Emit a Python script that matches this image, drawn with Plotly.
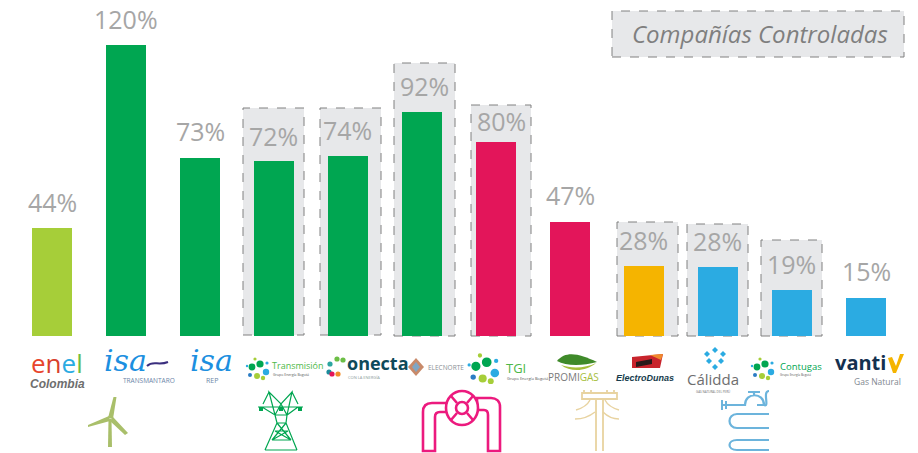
import re
import plotly.graph_objects as go

companies = ["Enel Colombia", "ISA Transmantaro", "ISA REP", "Transmisión GEB", "Conecta", "Elecnorte",
             "TGI", "Promigas", "ElectroDunas", "Cálidda", "Contugas", "Vanti"]
values = [44.5, 120, 73.4, 72.2, 74.2, 92.4, 80, 47, 28.9, 28.5, 19, 15.7]
labels = ["44%", "120%", "73%", "72%", "74%", "92%", "80%", "47%", "28%", "28%", "19%", "15%"]
colors = ["#A6CE39", "#00A651", "#00A651", "#00A651", "#00A651", "#00A651",
          "#E3155A", "#E3155A", "#F5B400", "#2BABE2", "#2BABE2", "#2BABE2"]
label_dx = [0, 0, 0, -1, -1, 2, 5, 0, -1, -1, -1, 0]
label_dy = [26, 26, 27, 25, 26, 26, 21, 27, 26, 26, 26, 27]

W, H = 918, 453
FONT = "Open Sans"
GREY = "#A6A6A6"

def X(x): return x / W
def Y(y): return 1 - y / H

def path(s):
    toks = re.findall(r"[A-Za-z]|-?[\d.]+", s)
    out, isx = [], True
    for t in toks:
        if t.isalpha():
            out.append(t); isx = True
        else:
            out.append(f"{X(float(t)):.5f}" if isx else f"{Y(float(t)):.5f}")
            isx = not isx
    return " ".join(out)

shapes, notes = [], []

def box(x0, y0, x1, y1):
    shapes.append(dict(type="rect", xref="paper", yref="paper", x0=X(x0), x1=X(x1), y0=Y(y1), y1=Y(y0),
                       fillcolor="#E7E8EA", line=dict(color="#808080", width=1, dash="dash"), layer="below"))

def stroke(s, color, width=2, fill=None):
    shapes.append(dict(type="path", xref="paper", yref="paper", path=path(s),
                       line=dict(color=color, width=width), fillcolor=fill or "rgba(0,0,0,0)"))

def solid(s, color):
    shapes.append(dict(type="path", xref="paper", yref="paper", path=path(s),
                       line=dict(width=0), fillcolor=color))

def dot(cx, cy, r, color):
    shapes.append(dict(type="circle", xref="paper", yref="paper", x0=X(cx - r), x1=X(cx + r),
                       y0=Y(cy + r), y1=Y(cy - r), fillcolor=color, line=dict(width=0)))

def text(x, y, s, size, color, anchor="center", family=FONT):
    notes.append(dict(xref="paper", yref="paper", x=X(x), y=Y(y), text=s, showarrow=False, xanchor=anchor,
                      yanchor="middle", font=dict(size=size, color=color, family=family)))

def cluster(cx, cy, k=1.0):
    for dx, dy, r, c in [(-6, -2, 3.4, "#00A651"), (2, -5, 3.6, "#00A651"), (8, 3, 3.2, "#2BABE2"),
                         (-1, 7, 3, "#A6CE39"), (-8, 6, 2, "#2B7CC4"), (5, 9, 2.2, "#A6CE39"),
                         (-3, -10, 1.6, "#A6CE39"), (9, -6, 1.6, "#2BABE2"), (-11, -3, 1.2, "#2BABE2")]:
        dot(cx + dx * k, cy + dy * k, r * k, c)

# dashed "controlled company" boxes
for b in [(243, 108, 304, 335), (320, 108, 381, 335), (394, 63, 455, 336), (471, 105, 531, 336),
          (617, 222, 678, 336), (687, 224, 748, 336), (761, 240, 822, 336), (612, 11, 904, 57)]:
    box(*b)
text(760, 34, "<i>Compañías Controladas</i>", 24, "#7F7F7F")

# logos
text(57, 363, "<span style='color:#E8452C'>e</span><span style='color:#D8402E'>n</span>"
              "<span style='color:#2BABE2'>e</span><span style='color:#6CBE45'>l</span>", 26, "#E8452C")
text(57, 384, "<b><i>Colombia</i></b>", 12, "#6E6E6E", family="Liberation Sans")
text(125, 360, "<i>isa</i>", 30, "#1C8FE0", family="DejaVu Serif")
stroke("M147 366 C153 360 158 366 168 362", "#3A2E7E", 2)
text(149, 380, "TRANSMANTARO", 6.5, "#6D86A8")
text(211, 360, "<i>isa</i>", 30, "#1C8FE0", family="DejaVu Serif")
text(212, 380, "REP", 7, "#6D86A8")
cluster(258, 369)
text(270, 365, "Transmisión", 9, "#4DB848", "left")
text(271, 374, "Grupo Energía Bogotá", 3.5, "#555555", "left")
for cx, cy, c in [(337, 359, "#6CBE45"), (330, 364, "#2BA6A0"), (329, 372, "#1C8C9C"),
                  (332, 374, "#E3155A"), (338, 374, "#F28C28"), (343, 360, "#6CBE45")]:
    dot(cx, cy, 2.6, c)
text(345, 363, "<b>onecta</b>", 18, "#0E4A5A", "left")
text(346, 377, "CON LA ENERGÍA", 4, "#8A9A9A", "left")
solid("M416 358 L424 367 L416 376 L408 367 Z", "#C88A6A")
solid("M416 362 L420 367 L416 372 L412 367 Z", "#7FA6C4")
text(426, 367, "ELECNORTE", 6.5, "#8A8F96", "left")
cluster(484, 369, 1.35)
text(504, 368, "TGI", 13, "#4DB848", "left")
text(505, 378, "Grupo Energía Bogotá", 4, "#555555", "left")
solid("M557 361 C566 350 580 354 597 362 C582 366 566 366 557 361 Z", "#3F8A2A")
solid("M561 365 C572 369 586 368 596 363 C586 372 570 372 561 365 Z", "#A6BE3C")
text(573, 377, "<span style='color:#7A7A7A'>PROMI</span><span style='color:#A6BE3C'>GAS</span>", 10, "#7A7A7A")
solid("M632 357 L663 354 L660 368 L632 368 Z", "#C8242C")
solid("M650 355 L663 354 L661 360 Z", "#F08A2C")
solid("M636 362 L652 359 L652 364 L636 367 Z", "#2A1A1A")
text(645, 378, "<b><i>ElectroDunas</i></b>", 9, "#163C4C", family="Liberation Sans")
for dx, dy in [(0, -8), (-8, -4), (8, -4), (-6, 3), (6, 3), (0, 9)]:
    solid(f"M{715 + dx - 3} {358 + dy} L{715 + dx} {358 + dy - 3} L{715 + dx + 3} {358 + dy} L{715 + dx} {358 + dy + 3} Z", "#2BABE2")
text(713, 379, "Cálidda", 15, "#6E6E6E")
text(713, 391, "GAS NATURAL DEL PERÚ", 3, "#6E6E6E")
cluster(763, 369)
text(778, 366, "Contugas", 9.5, "#00A651", "left")
text(778, 375, "Grupo Energía Bogotá", 3, "#555555", "left")
text(833, 362, "<b>vanti</b>", 20, "#14304F", "left")
solid("M888 358 L892 357 L896 366 L900 354 L904 354 L896 373 L893 373 Z", "#F5B400")
text(903, 381, "Gas Natural", 8.5, "#7F8890", "right")

# sector icons
turbine = "#A9BF6A"
solid("M108 447 L112 447 L111.5 419 L108.5 419 Z", turbine)
solid("M108 418 L113.5 397 L116.5 397 L113 419 Z", turbine)
solid("M109 416 L88 425 L88 427 L110 421 Z", turbine)
solid("M110 421 L125 435 L128 433 L113 417 Z", turbine)

tw = "#00A651"
stroke("M265 450 L277 423 L275 415 L269 392 L281 404 L292 392 L287 415 L286 423 L297 450 "
       "M265 450 L297 450 M258 407 L303 407 M263 404 L269 392 M298 404 L292 392 "
       "M275 415 L287 415 M277 423 L286 423 M275 431 L288 431 M272 440 L291 440 "
       "M277 423 L291 440 M286 423 L272 440 M272 440 L288 431 M275 431 L291 440 "
       "M262 407 L275 415 L281 404 L287 415 L298 407", tw, 1.2)
for cx in (261, 281, 300):
    solid(f"M{cx - 2} 407 L{cx + 2} 407 L{cx + 2} 411 L{cx - 2} 411 Z", tw)

pk = "#EC1A7E"
stroke("M423 451 L423 412 C423 405 427 403 432 403 L447 403 L447 412 L440 412 C436 412 435 414 435 417 L435 451 Z",
       pk, 2.6)
stroke("M500 451 L500 407 C500 401 496 398 491 398 L477 398 L477 410 L484 410 C487 410 488 412 488 415 L488 451 Z",
       pk, 2.6)
shapes.append(dict(type="circle", xref="paper", yref="paper", x0=X(446), x1=X(478), y0=Y(425), y1=Y(391),
                   fillcolor="#FFFFFF", line=dict(color=pk, width=2.6)))
stroke("M451 396 L457 403 M473 396 L467 403 M451 420 L457 413 M473 420 L467 413", pk, 2.6)
shapes.append(dict(type="circle", xref="paper", yref="paper", x0=X(456), x1=X(468), y0=Y(414), y1=Y(402),
                   fillcolor="#FFFFFF", line=dict(color=pk, width=2.6)))

pole = "#E8D3A0"
stroke("M596 399 L596 451 M603 399 L603 451", pole, 1.8)
stroke("M582 393 L617 393 L617 399 L582 399 Z M584 390 L584 393 M591 390 L591 393 M607 390 L607 393 M614 390 L614 393",
       pole, 1.8)
stroke("M576 410 C583 408 588 404 590 400 M619 410 C612 408 607 404 605 400 "
       "M575 419 C583 419 590 416 595 412 M619 419 C612 419 607 416 603 412", pole, 1.4)

coil = "#6CB4DC"
stroke("M722 405 L745 405 C745 392 764 392 764 405 L757 405 M748 392 L760 392 M754 392 L754 396 "
       "M764 405 C770 408 762 391 769 391", coil, 2.2)
stroke("M769 414 L737 414 C727 414 727 428 737 428 L769 428 M769 440 L737 440 C727 440 727 450 737 450 L769 450",
       coil, 2.2)
stroke("M722 400 L722 410 M726 401 L726 409", coil, 2)

# value labels are anchored to the bars through the data axes
for name, v, lab, dx, dy in zip(companies, values, labels, label_dx, label_dy):
    notes.append(dict(x=name, y=v, xref="x", yref="y", text=lab, showarrow=False, xshift=dx, yshift=dy,
                      xanchor="center", yanchor="middle", font=dict(size=25, color=GREY, family=FONT)))

fig = go.Figure(go.Bar(x=companies, y=values, marker=dict(color=colors, line=dict(width=0)),
                       width=40 / 74, hoverinfo="skip"))
px_per_unit = 2.425
fig.update_layout(
    width=W, height=H, margin=dict(l=0, r=0, t=0, b=0, pad=0),
    paper_bgcolor="#FFFFFF", plot_bgcolor="rgba(0,0,0,0)", showlegend=False,
    xaxis=dict(visible=False, type="category", categoryorder="array", categoryarray=companies,
               range=[-52 / 74, (W - 52) / 74]),
    yaxis=dict(visible=False, range=[-(H - 336) / px_per_unit, 336 / px_per_unit]),
    shapes=shapes, annotations=notes,
)
fig.write_html("out.html", config={"displayModeBar": False},
               post_script="document.body.style.margin='0';document.documentElement.style.overflow='hidden';")
